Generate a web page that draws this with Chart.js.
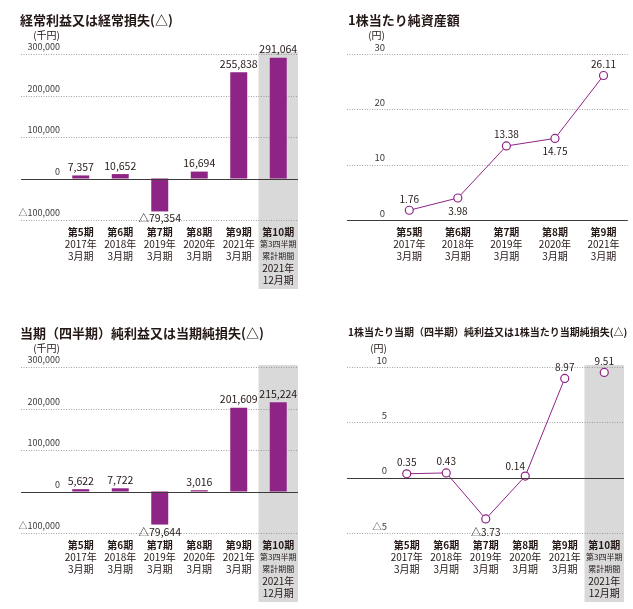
<!DOCTYPE html>
<html lang="ja">
<head>
<meta charset="UTF-8">
<title>業績推移</title>
<script src="https://cdn.jsdelivr.net/npm/chart.js@4"></script>
<style>
  body { margin: 0; background: #fff; font-family: 'Noto Sans CJK JP', sans-serif; }
  #page { position: relative; width: 633px; height: 609px; overflow: hidden; }
  .panel { position: absolute; }
  .panel canvas { display: block; }
  .title { position: absolute; font-weight: bold; color: #231815; white-space: nowrap; line-height: 1; }
</style>
</head>
<body>
<div id="page">
  <div class="panel" style="left:0;top:0;width:316px;height:313px">
    <canvas id="ordinary"></canvas>
    <div class="title" style="left:20px;top:13px;font-size:13px">経常利益又は経常損失(△)</div>
  </div>
  <div class="panel" style="left:320px;top:0;width:313px;height:313px">
    <canvas id="bps"></canvas>
    <div class="title" style="left:28px;top:13px;font-size:13px">1株当たり純資産額</div>
  </div>
  <div class="panel" style="left:0;top:313px;width:316px;height:296px">
    <canvas id="net"></canvas>
    <div class="title" style="left:20px;top:13px;font-size:13px">当期（四半期）純利益又は当期純損失(△)</div>
  </div>
  <div class="panel" style="left:320px;top:313px;width:313px;height:296px">
    <canvas id="eps"></canvas>
    <div class="title" style="left:28px;top:14px;font-size:10px">1株当たり当期（四半期）純利益又は1株当たり当期純損失(△)</div>
  </div>
</div>

<script>
// periods (x labels)
const periods = [
  ['第5期', '2017年', '3月期'],
  ['第6期', '2018年', '3月期'],
  ['第7期', '2019年', '3月期'],
  ['第8期', '2020年', '3月期'],
  ['第9期', '2021年', '3月期'],
  ['第10期', '第3四半期', '累計期間', '2021年', '12月期']
];

// 千円
const ordinaryProfit = [7357, 10652, -79354, 16694, 255838, 291064];
const netProfit = [5622, 7722, -79644, 3016, 201609, 215224];
const profitTicks = [-100000, 0, 100000, 200000, 300000];

// 円
const bpsValues = [1.76, 3.98, 13.38, 14.75, 26.11];
const bpsTicks = [0, 10, 20, 30];
const epsValues = [0.35, 0.43, -3.73, 0.14, 8.97, 9.51];
const epsTicks = [-5, 0, 5, 10];

// where each point label sits
const bpsLabelSide = ['up', 'down', 'up', 'down', 'up'];
const epsLabelSide = ['up', 'up', 'down', 'upleft', 'up', 'up'];

const PURPLE = '#8e2485';
const TEXT = '#231815';
Chart.defaults.font.family = "'Noto Sans CJK JP', sans-serif";

function fmt(v, d) {
  const s = Math.abs(v).toLocaleString('en-US', { minimumFractionDigits: d, maximumFractionDigits: d });
  return (v < 0 ? '△' : '') + s;
}

const deco = {
  id: 'deco',
  beforeDraw(chart, args, o) {
    if (o.bandIndex == null) return;
    const { ctx, chartArea, scales: { x } } = chart;
    const w = (chartArea.right - chartArea.left) / chart.data.labels.length;
    const cx = x.getPixelForValue(o.bandIndex);
    ctx.save();
    ctx.fillStyle = '#d9d9da';
    ctx.fillRect(cx - w / 2, chartArea.top - 2, w, o.bandBottom - chartArea.top + 2);
    ctx.restore();
  },
  beforeDatasetsDraw(chart, args, o) {
    const { ctx, chartArea, scales: { y } } = chart;
    ctx.save();
    ctx.setLineDash([1, 1.5]);
    ctx.strokeStyle = '#8c8c8c';
    ctx.lineWidth = 0.8;
    y.ticks.forEach(t => {
      if (t.value === 0) return;
      const py = Math.round(y.getPixelForValue(t.value)) + 0.5;
      ctx.beginPath();
      ctx.moveTo(o.gridLeft, py);
      ctx.lineTo(chartArea.right, py);
      ctx.stroke();
    });
    ctx.restore();
  },
  afterDatasetsDraw(chart, args, o) {
    const { ctx, chartArea, scales: { y } } = chart;
    // zero line
    const py = Math.round(y.getPixelForValue(0)) + 0.5;
    ctx.save();
    ctx.strokeStyle = '#3e3a39';
    ctx.lineWidth = 1;
    ctx.beginPath();
    ctx.moveTo(o.gridLeft, py);
    ctx.lineTo(chartArea.right, py);
    ctx.stroke();

    // value labels
    ctx.fillStyle = TEXT;
    ctx.textAlign = 'center';
    ctx.textBaseline = 'middle';
    ctx.font = o.valueFont + "px 'Noto Sans CJK JP'";
    chart.data.datasets.forEach((ds, di) => {
      chart.getDatasetMeta(di).data.forEach((el, i) => {
        const v = ds.data[i];
        if (v == null) return;
        let lx = el.x, ly;
        if (chart.config.type === 'bar') {
          ly = v >= 0 ? el.y - 8.5 : el.y + 7;
        } else {
          const side = o.sides[i];
          if (side === 'down') ly = el.y + 13;
          else if (side === 'upleft') { ly = el.y - 10; lx = el.x - 10; }
          else ly = el.y - 11.5;
        }
        ctx.fillText(fmt(v, o.decimals), lx, ly);
      });
    });
    ctx.restore();
  },
  afterDraw(chart, args, o) {
    const { ctx, scales: { x, y } } = chart;
    ctx.save();
    ctx.fillStyle = TEXT;
    ctx.textBaseline = 'middle';
    // unit
    ctx.textAlign = 'right';
    ctx.font = "10px 'Noto Sans CJK JP'";
    ctx.fillText(o.unit, y.right - y.options.ticks.padding, 35);
    // period labels
    ctx.textAlign = 'center';
    chart.data.labels.forEach((lines, i) => {
      const cx = x.getPixelForValue(i);
      lines.forEach((s, k) => {
        if (k === 0) ctx.font = "bold 10px 'Noto Sans CJK JP'";
        else if (lines.length > 3 && k < 3) ctx.font = "8px 'Noto Sans CJK JP'";
        else ctx.font = "10px 'Noto Sans CJK JP'";
        ctx.fillText(s, cx, 232 + k * 12);
      });
    });
    ctx.restore();
  }
};

function makeChart(id, p) {
  return new Chart(document.getElementById(id), {
    type: p.type,
    data: { labels: p.labels, datasets: p.datasets },
    options: {
      responsive: true,
      maintainAspectRatio: false,
      animation: false,
      layout: { padding: { left: p.padLeft, right: p.padRight, top: 54, bottom: p.padBottom } },
      plugins: {
        legend: { display: false },
        tooltip: { enabled: false },
        deco: {
          gridLeft: p.gridLeft, bandIndex: p.bandIndex, bandBottom: 289,
          unit: p.unit, decimals: p.decimals, valueFont: p.valueFont, sides: p.sides
        }
      },
      scales: {
        x: { display: false, offset: true },
        y: {
          min: p.ticks[0],
          max: p.ticks[p.ticks.length - 1],
          afterBuildTicks: s => { s.ticks = p.ticks.map(v => ({ value: v })); },
          afterFit: s => { s.width = p.axisWidth; },
          grid: { display: false, drawTicks: false },
          border: { display: false },
          ticks: {
            padding: p.tickPad,
            labelOffset: -7,
            color: '#3e3a39',
            font: { size: p.tickFont },
            callback: v => fmt(v, 0)
          }
        }
      }
    },
    plugins: [deco]
  });
}

function barSet(values) {
  return [{
    data: values,
    backgroundColor: PURPLE,
    borderWidth: 0,
    barPercentage: 0.43,
    categoryPercentage: 1
  }];
}

const pointStyle = {
  borderColor: PURPLE,
  borderWidth: 1,
  pointRadius: 4,
  pointBackgroundColor: '#fff',
  pointBorderColor: PURPLE,
  pointBorderWidth: 1.2,
  tension: 0
};

makeChart('ordinary', {
  type: 'bar', labels: periods, datasets: barSet(ordinaryProfit), ticks: profitTicks,
  padLeft: 12, padRight: 18, padBottom: 93, axisWidth: 49, tickPad: 1, tickFont: 9,
  gridLeft: 21, bandIndex: 5, unit: '(千円)', decimals: 0, valueFont: 10.5
});

makeChart('bps', {
  type: 'line', labels: periods.slice(0, 5),
  datasets: [Object.assign({ data: bpsValues }, pointStyle)],
  ticks: bpsTicks,
  padLeft: 27, padRight: 5, padBottom: 93, axisWidth: 38, tickPad: 0, tickFont: 9.5,
  gridLeft: 27, bandIndex: null, unit: '(円)', decimals: 2, valueFont: 10, sides: bpsLabelSide
});

makeChart('net', {
  type: 'bar', labels: periods, datasets: barSet(netProfit), ticks: profitTicks,
  padLeft: 12, padRight: 18, padBottom: 76, axisWidth: 49, tickPad: 1, tickFont: 9,
  gridLeft: 21, bandIndex: 5, unit: '(千円)', decimals: 0, valueFont: 10.5
});

makeChart('eps', {
  type: 'line', labels: periods,
  datasets: [
    Object.assign({ data: epsValues.map((v, i) => i < 5 ? v : null) }, pointStyle),
    Object.assign({ data: epsValues.map((v, i) => i === 5 ? v : null), showLine: false }, pointStyle)
  ],
  ticks: epsTicks,
  padLeft: 22, padRight: 9, padBottom: 76, axisWidth: 45, tickPad: 0, tickFont: 9.5,
  gridLeft: 27, bandIndex: 5, unit: '(円)', decimals: 2, valueFont: 10, sides: epsLabelSide
});
</script>
</body>
</html>
